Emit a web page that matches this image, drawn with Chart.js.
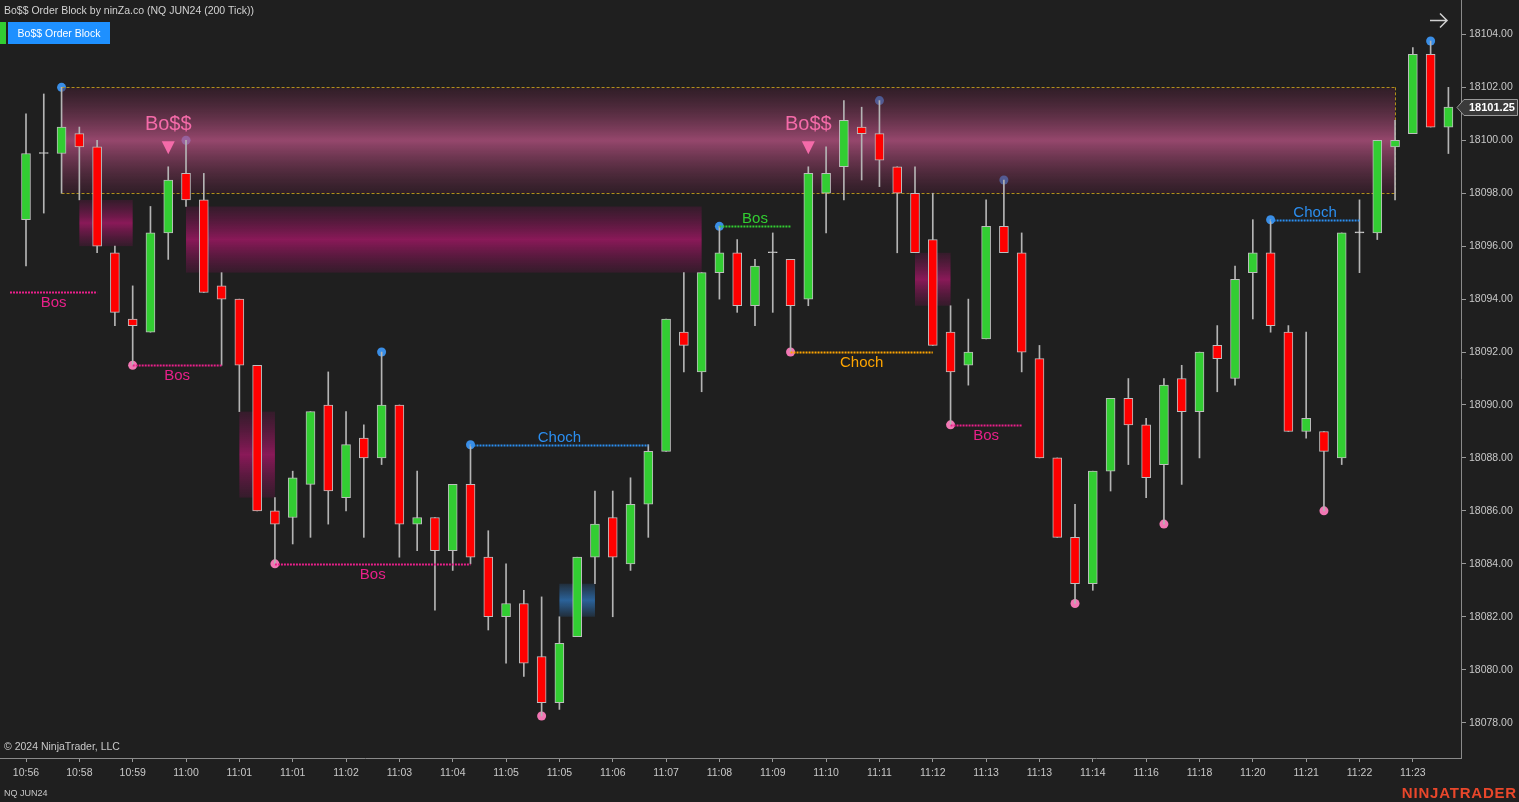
<!DOCTYPE html>
<html>
<head>
<meta charset="utf-8">
<title>Bo$$ Order Block by ninZa.co (NQ JUN24 (200 Tick))</title>
<script src="https://cdn.jsdelivr.net/npm/chart.js@4.4.1/dist/chart.umd.min.js"></script>
<style>
  html, body { margin: 0; padding: 0; background: #1f1f1f; overflow: hidden; }
  canvas { display: block; }
</style>
</head>
<body>
<canvas id="chart" width="1519" height="802"></canvas>
<script>
// NQ JUN24, 200 tick bars — OHLC read bar by bar
const opens  = [18097.0, 18099.5, 18099.5, 18100.25, 18099.75, 18095.75, 18093.25, 18092.75, 18096.5, 18098.75,
                18097.75, 18094.5, 18094.0, 18091.5, 18086.0, 18085.75, 18087.0, 18090.0, 18086.5, 18088.75,
                18088.0, 18090.0, 18085.5, 18085.75, 18084.5, 18087.0, 18084.25, 18082.0, 18082.5, 18080.5,
                18078.75, 18081.25, 18084.25, 18085.75, 18084.0, 18086.25, 18088.25, 18092.75, 18091.25, 18095.0,
                18095.75, 18093.75, 18095.75, 18095.5, 18094.0, 18098.0, 18099.0, 18100.5, 18100.25, 18099.0,
                18098.0, 18096.25, 18092.75, 18091.5, 18092.5, 18096.75, 18095.75, 18091.75, 18088.0, 18085.0,
                18083.25, 18087.5, 18090.25, 18089.25, 18087.75, 18091.0, 18089.75, 18092.25, 18091.0, 18095.0,
                18095.75, 18092.75, 18089.0, 18089.0, 18088.0, 18096.5, 18096.5, 18099.75, 18100.25, 18103.25,
                18100.5];
const highs  = [18101.0, 18101.75, 18102.0, 18100.5, 18100.0, 18096.0, 18094.5, 18097.5, 18099.0, 18100.0,
                18098.75, 18095.0, 18094.0, 18091.5, 18086.5, 18087.5, 18089.75, 18091.25, 18089.75, 18089.25,
                18092.0, 18090.0, 18087.5, 18085.75, 18087.0, 18088.5, 18085.25, 18084.0, 18083.0, 18082.75,
                18082.0, 18084.25, 18086.75, 18086.75, 18087.25, 18088.5, 18093.25, 18095.0, 18095.0, 18096.75,
                18096.25, 18095.5, 18096.5, 18095.5, 18099.0, 18099.75, 18101.5, 18101.25, 18101.5, 18099.0,
                18099.0, 18098.0, 18093.75, 18094.0, 18097.75, 18098.5, 18096.5, 18092.25, 18088.0, 18086.25,
                18087.5, 18090.25, 18091.0, 18089.5, 18091.0, 18091.5, 18092.0, 18093.0, 18095.25, 18097.0,
                18097.0, 18093.0, 18092.75, 18089.0, 18096.5, 18097.75, 18100.0, 18100.75, 18103.5, 18103.75,
                18102.0];
const lows   = [18095.25, 18097.25, 18098.0, 18097.75, 18095.75, 18093.0, 18091.5, 18092.75, 18095.5, 18097.5,
                18094.25, 18091.5, 18089.75, 18086.0, 18084.0, 18084.75, 18085.0, 18085.5, 18086.0, 18085.0,
                18087.75, 18084.25, 18084.5, 18082.25, 18083.75, 18084.0, 18081.5, 18080.25, 18079.75, 18078.25,
                18078.5, 18081.25, 18083.25, 18082.0, 18083.75, 18085.0, 18088.25, 18091.25, 18090.5, 18094.0,
                18093.5, 18093.0, 18093.5, 18092.0, 18093.75, 18096.5, 18097.75, 18098.5, 18098.25, 18095.75,
                18095.75, 18092.25, 18089.25, 18090.75, 18092.5, 18095.75, 18091.25, 18088.0, 18085.0, 18082.5,
                18083.0, 18086.75, 18087.75, 18086.5, 18085.5, 18087.0, 18088.0, 18090.5, 18090.75, 18093.25,
                18092.75, 18089.0, 18088.75, 18086.0, 18087.75, 18095.0, 18096.25, 18097.75, 18100.25, 18100.5,
                18099.5];
const closes = [18099.5, 18099.5, 18100.5, 18099.75, 18096.0, 18093.5, 18093.0, 18096.5, 18098.5, 18097.75,
                18094.25, 18094.0, 18091.5, 18086.0, 18085.5, 18087.25, 18089.75, 18086.75, 18088.5, 18088.0,
                18090.0, 18085.5, 18085.75, 18084.5, 18087.0, 18084.25, 18082.0, 18082.5, 18080.25, 18078.75,
                18081.0, 18084.25, 18085.5, 18084.25, 18086.25, 18088.25, 18093.25, 18092.25, 18095.0, 18095.75,
                18093.75, 18095.25, 18095.75, 18093.75, 18098.75, 18098.75, 18100.75, 18100.25, 18099.25, 18098.0,
                18095.75, 18092.25, 18091.25, 18092.0, 18096.75, 18095.75, 18092.0, 18088.0, 18085.0, 18083.25,
                18087.5, 18090.25, 18089.25, 18087.25, 18090.75, 18089.75, 18092.0, 18091.75, 18094.75, 18095.75,
                18093.0, 18089.0, 18089.5, 18088.25, 18096.5, 18096.5, 18100.0, 18100.0, 18103.25, 18100.5,
                18101.25];

// time axis: one label every 3 bars
const timeTicks = ['10:56', '10:58', '10:59', '11:00', '11:01', '11:01', '11:02', '11:03', '11:04', '11:05',
                   '11:05', '11:06', '11:07', '11:08', '11:09', '11:10', '11:11', '11:12', '11:13', '11:13',
                   '11:14', '11:16', '11:18', '11:20', '11:21', '11:22', '11:23'];
const priceTicks = [18078, 18080, 18082, 18084, 18086, 18088, 18090, 18092, 18094, 18096, 18098, 18100, 18102, 18104];

// swing points (bar index)
const swingHighBars = [2, 9, 20, 25, 39, 48, 55, 70, 79];
const swingLowBars  = [6, 14, 29, 43, 52, 59, 64, 73];

// order blocks
const zoneFrom   = [2, 3, 9, 12, 50, 30];
const zoneTo     = [77, 6, 38, 14, 52, 32];
const zoneTop    = [18102.0, 18097.75, 18097.5, 18089.75, 18095.75, 18083.25];
const zoneBottom = [18098.0, 18096.0, 18095.0, 18086.5, 18093.75, 18082.0];
const zoneKind   = ['boss', 'bear', 'bear', 'bear', 'bear', 'bull'];

// structure breaks
const breakFrom  = [-0.9, 6, 14, 25, 39, 43, 52, 70];
const breakTo    = [4, 11, 25, 35, 43, 51, 56, 75];
const breakPrice = [18094.25, 18091.5, 18084.0, 18088.5, 18096.75, 18092.0, 18089.25, 18097.0];
const breakText  = ['Bos', 'Bos', 'Bos', 'Choch', 'Bos', 'Choch', 'Bos', 'Choch'];
const breakKind  = ['bearBos', 'bearBos', 'bearBos', 'bullChoch', 'bullBos', 'bearChoch', 'bearBos', 'bullChoch'];

// Bo$$ signals (bar index)
const bossBars = [8, 44];

const GREEN = '#32cd32', RED = '#ff0000', DOJI = '#d0d0d0';
const breakColors = { bearBos: '#e8208a', bullBos: '#32cd32', bullChoch: '#2b8ef0', bearChoch: '#ffa500' };
const BAR_GAP = 17.78, FIRST_X = 26;

Chart.defaults.font.family = 'Arial, "Liberation Sans", sans-serif';

const bars = opens.map((_, i) => i);

const overlay = {
  id: 'overlay',
  beforeDatasetDraw(chart, args) {
    if (args.index !== 1) return; // zones sit under the wicks, over the swing dots
    const { ctx, chartArea: a, scales: { x, y } } = chart;
    ctx.save();
    ctx.beginPath();
    ctx.rect(a.left, a.top, a.right - a.left, a.bottom - a.top);
    ctx.clip();
    zoneFrom.forEach((from, k) => {
      const x0 = x.getPixelForValue(from), x1 = x.getPixelForValue(zoneTo[k]);
      const y0 = y.getPixelForValue(zoneTop[k]), y1 = y.getPixelForValue(zoneBottom[k]);
      const g = ctx.createLinearGradient(0, y0, 0, y1);
      if (zoneKind[k] === 'boss') {
        g.addColorStop(0, 'rgba(70,30,50,0.45)');
        g.addColorStop(0.5, 'rgba(190,85,135,0.75)');
        g.addColorStop(1, 'rgba(70,30,50,0.45)');
      } else if (zoneKind[k] === 'bear') {
        g.addColorStop(0, 'rgba(120,20,80,0.25)');
        g.addColorStop(0.5, 'rgba(150,25,95,0.9)');
        g.addColorStop(1, 'rgba(120,20,80,0.25)');
      } else {
        g.addColorStop(0, 'rgba(45,110,175,0.2)');
        g.addColorStop(0.5, 'rgba(45,110,175,0.85)');
        g.addColorStop(1, 'rgba(45,110,175,0.2)');
      }
      ctx.fillStyle = g;
      ctx.fillRect(x0, y0, x1 - x0, y1 - y0);
      if (zoneKind[k] === 'boss') {
        ctx.strokeStyle = '#b0901a';
        ctx.lineWidth = 1;
        ctx.setLineDash([3, 2]);
        ctx.beginPath();
        ctx.moveTo(x0, Math.round(y0) + 0.5); ctx.lineTo(x1, Math.round(y0) + 0.5);
        ctx.moveTo(x0, Math.round(y1) + 0.5); ctx.lineTo(x1, Math.round(y1) + 0.5);
        ctx.moveTo(Math.round(x1) + 0.5, y0); ctx.lineTo(Math.round(x1) + 0.5, y1);
        ctx.stroke();
        ctx.setLineDash([]);
      }
    });
    ctx.restore();
  },
  afterDatasetsDraw(chart) {
    const { ctx, scales: { x, y } } = chart;
    ctx.save();
    // structure breaks
    breakFrom.forEach((from, k) => {
      const x0 = x.getPixelForValue(from), x1 = x.getPixelForValue(breakTo[k]);
      const py = Math.round(y.getPixelForValue(breakPrice[k])) + 0.5;
      const col = breakColors[breakKind[k]];
      ctx.strokeStyle = col;
      ctx.lineWidth = 2;
      ctx.setLineDash([2, 1]);
      ctx.beginPath();
      ctx.moveTo(x0, py); ctx.lineTo(x1, py);
      ctx.stroke();
      ctx.setLineDash([]);
      ctx.fillStyle = col;
      ctx.font = '15px Arial, "Liberation Sans", sans-serif';
      ctx.textAlign = 'center';
      ctx.textBaseline = 'middle';
      const above = breakKind[k].startsWith('bull');
      ctx.fillText(breakText[k], (x0 + x1) / 2, above ? py - 8 : py + 10);
    });
    // Bo$$ signals
    bossBars.forEach(i => {
      const cx = x.getPixelForValue(i);
      const tip = y.getPixelForValue(highs[i]) - 12.5;
      ctx.fillStyle = '#f46ba9';
      ctx.beginPath();
      ctx.moveTo(cx - 6.5, tip - 13);
      ctx.lineTo(cx + 6.5, tip - 13);
      ctx.lineTo(cx, tip);
      ctx.closePath();
      ctx.fill();
      ctx.font = '20px Arial, "Liberation Sans", sans-serif';
      ctx.textAlign = 'center';
      ctx.textBaseline = 'middle';
      ctx.fillText('Bo$$', cx, tip - 30);
    });
    ctx.restore();
  },
  afterDraw(chart) {
    const { ctx, scales: { y } } = chart;
    ctx.save();
    ctx.textBaseline = 'alphabetic';
    ctx.textAlign = 'left';
    // header
    ctx.fillStyle = '#d2d2d2';
    ctx.font = '10.5px Arial, "Liberation Sans", sans-serif';
    ctx.fillText('Bo$$ Order Block by ninZa.co (NQ JUN24 (200 Tick))', 4, 14);
    ctx.fillStyle = GREEN;
    ctx.fillRect(0, 22, 6, 22);
    ctx.fillStyle = '#1e90ff';
    ctx.fillRect(8, 22, 102, 22);
    ctx.fillStyle = '#ffffff';
    ctx.textAlign = 'center';
    ctx.fillText('Bo$$ Order Block', 59, 37);
    // footer texts
    ctx.textAlign = 'left';
    ctx.fillStyle = '#c8c8c8';
    ctx.fillText('\u00a9 2024 NinjaTrader, LLC', 4, 750);
    ctx.font = '9px Arial, "Liberation Sans", sans-serif';
    ctx.fillText('NQ JUN24', 4, 796);
    ctx.fillStyle = '#e9472b';
    ctx.font = 'bold 15px Arial, "Liberation Sans", sans-serif';
    ctx.letterSpacing = '0.8px';
    ctx.textAlign = 'right';
    ctx.fillText('NINJATRADER', 1517, 798);
    ctx.letterSpacing = '0px';
    // scroll arrow
    ctx.strokeStyle = '#d0d0d0';
    ctx.lineWidth = 1.5;
    ctx.beginPath();
    ctx.moveTo(1430, 20.5); ctx.lineTo(1447, 20.5);
    ctx.moveTo(1440, 13.5); ctx.lineTo(1447, 20.5); ctx.lineTo(1440, 27.5);
    ctx.stroke();
    // last price tag
    const last = closes[closes.length - 1];
    const py = Math.round(y.getPixelForValue(last)) + 0.5;
    ctx.fillStyle = '#3a3a3a';
    ctx.strokeStyle = '#9a9a9a';
    ctx.lineWidth = 1;
    ctx.beginPath();
    ctx.moveTo(1457, py);
    ctx.lineTo(1464, py - 8);
    ctx.lineTo(1517.5, py - 8);
    ctx.lineTo(1517.5, py + 8);
    ctx.lineTo(1464, py + 8);
    ctx.closePath();
    ctx.fill();
    ctx.stroke();
    ctx.fillStyle = '#ffffff';
    ctx.font = 'bold 11px Arial, "Liberation Sans", sans-serif';
    ctx.textAlign = 'left';
    ctx.textBaseline = 'middle';
    ctx.fillText(last.toFixed(2), 1469, py + 0.5);
    ctx.restore();
  }
};

new Chart(document.getElementById('chart'), {
  type: 'bar',
  data: {
    datasets: [
      {
        label: 'body',
        data: bars.map(i => ({ x: i, y: [opens[i], closes[i]] })),
        backgroundColor: bars.map(i => closes[i] > opens[i] ? GREEN : closes[i] < opens[i] ? RED : DOJI),
        borderColor: bars.map(i => closes[i] === opens[i] ? DOJI : '#bdbdbd'),
        borderWidth: 1,
        borderSkipped: false,
        barThickness: 9,
        minBarLength: 1,
        grouped: false
      },
      {
        label: 'wick',
        data: bars.map(i => ({ x: i, y: [lows[i], highs[i]] })),
        backgroundColor: '#b4b4b4',
        borderWidth: 0,
        barThickness: 1,
        grouped: false
      },
      {
        type: 'scatter',
        label: 'swing high',
        data: swingHighBars.map(i => ({ x: i, y: highs[i] })),
        pointRadius: 4.5,
        pointBorderWidth: 0,
        pointBackgroundColor: '#3a8ee6'
      },
      {
        type: 'scatter',
        label: 'swing low',
        data: swingLowBars.map(i => ({ x: i, y: lows[i] })),
        pointRadius: 4.5,
        pointBorderWidth: 0,
        pointBackgroundColor: '#f277b4'
      }
    ]
  },
  options: {
    responsive: false,
    animation: false,
    layout: { padding: 0, autoPadding: false },
    plugins: { legend: { display: false }, tooltip: { enabled: false } },
    scales: {
      x: {
        type: 'linear',
        offset: false,
        min: -FIRST_X / BAR_GAP,
        max: (1461 - FIRST_X) / BAR_GAP,
        afterBuildTicks: s => { s.ticks = timeTicks.map((_, k) => ({ value: k * 3 })); },
        afterFit: s => { s.height = 44; s.paddingLeft = 0; s.paddingRight = 0; },
        ticks: {
          color: '#c8c8c8', font: { size: 10.5 }, padding: 5, maxRotation: 0, autoSkip: false,
          callback: v => timeTicks[Math.round(v / 3)]
        },
        grid: { drawOnChartArea: false, offset: false, tickLength: 4, color: '#9a9a9a' },
        border: { color: '#8a8a8a' }
      },
      y: {
        position: 'right',
        min: 18076.664,
        max: 18105.30,
        afterBuildTicks: s => { s.ticks = priceTicks.map(v => ({ value: v })); },
        afterFit: s => { s.width = 58; s.paddingTop = 0; s.paddingBottom = 0; },
        ticks: { color: '#c8c8c8', font: { size: 10.5 }, padding: 3, callback: v => v.toFixed(2) },
        grid: { drawOnChartArea: false, tickLength: 5, color: '#9a9a9a' },
        border: { color: '#8a8a8a' }
      }
    }
  },
  plugins: [overlay]
});
</script>
</body>
</html>
